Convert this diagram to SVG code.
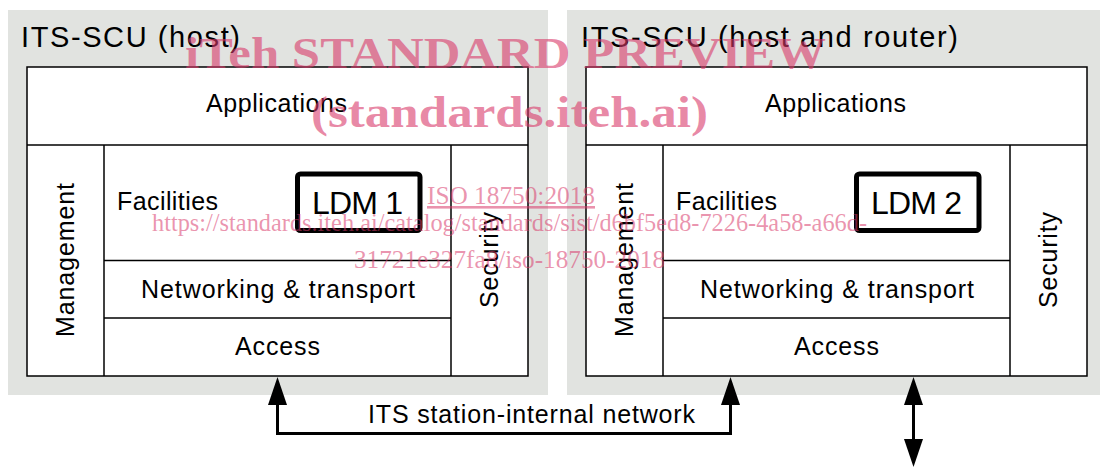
<svg xmlns="http://www.w3.org/2000/svg" width="1100" height="468" viewBox="0 0 1100 468">
  <defs>
    <style>
      .panel { fill: #e1e3e0; stroke: none; }
      .box { fill: #ffffff; stroke: #000000; stroke-width: 1.5; }
      .ln { fill: none; stroke: #000000; stroke-width: 1.5; }
      .ldm { fill: #ffffff; stroke: #000000; stroke-width: 5; }
      .t { font-family: "Liberation Sans", Arial, sans-serif; fill: #000000; }
      .title { font-size: 29px; }
      .lbl { font-size: 25px; }
      .big { font-size: 32px; }
      .conn { fill: none; stroke: #000000; stroke-width: 3; stroke-linejoin: miter; }
      .wm { font-family: "Liberation Serif", "Times New Roman", serif; fill: #d9396a; fill-opacity: 0.6; }
      .wmb { font-weight: bold; font-size: 45px; }
      .wms { font-size: 26px; fill-opacity: 0.55; }
    </style>
    <marker id="ah" markerUnits="userSpaceOnUse" markerWidth="28" markerHeight="20" viewBox="0 0 28 20" refX="0" refY="10" orient="auto-start-reverse">
      <path d="M0,0.5 L28,10 L0,19.5 Z" fill="#000000"/>
    </marker>
  </defs>

  <g id="panel-host">
    <rect class="panel" x="8" y="10" width="540" height="385"/>
    <text class="t title" x="21" y="47" textLength="219" lengthAdjust="spacing">ITS-SCU (host)</text>
    <rect class="box" x="27" y="67" width="501" height="309"/>
    <line class="ln" x1="27" y1="145" x2="528" y2="145"/>
    <line class="ln" x1="104" y1="145" x2="104" y2="376"/>
    <line class="ln" x1="451" y1="145" x2="451" y2="376"/>
    <line class="ln" x1="104" y1="260.5" x2="451" y2="260.5"/>
    <line class="ln" x1="104" y1="318" x2="451" y2="318"/>
  </g>
  <g id="host-applications">
    <text class="t lbl" x="206" y="112" textLength="141" lengthAdjust="spacing">Applications</text>
  </g>
  <g id="host-management">
    <text class="t lbl" x="74" y="260" text-anchor="middle" transform="rotate(-90 74 260)" textLength="154" lengthAdjust="spacing">Management</text>
  </g>
  <g id="host-facilities">
    <text class="t lbl" x="117" y="210" textLength="101" lengthAdjust="spacing">Facilities</text>
  </g>
  <g id="host-ldm">
    <rect class="ldm" x="297.5" y="174" width="122.5" height="56.5" rx="3"/>
    <text class="t big" x="312" y="213.5" textLength="91" lengthAdjust="spacing">LDM 1</text>
  </g>
  <g id="host-networking">
    <text class="t lbl" x="141" y="297.5" textLength="274" lengthAdjust="spacing">Networking &amp; transport</text>
  </g>
  <g id="host-access">
    <text class="t lbl" x="235" y="355" textLength="85" lengthAdjust="spacing">Access</text>
  </g>
  <g id="host-security">
    <text class="t lbl" x="498" y="260" text-anchor="middle" transform="rotate(-90 498 260)" textLength="96" lengthAdjust="spacing">Security</text>
  </g>

  <g id="panel-router">
    <rect class="panel" x="567" y="10" width="533" height="385"/>
    <text class="t title" x="581" y="47" textLength="377" lengthAdjust="spacing">ITS-SCU (host and router)</text>
    <rect class="box" x="586" y="67" width="501" height="309"/>
    <line class="ln" x1="586" y1="145" x2="1087" y2="145"/>
    <line class="ln" x1="663" y1="145" x2="663" y2="376"/>
    <line class="ln" x1="1010" y1="145" x2="1010" y2="376"/>
    <line class="ln" x1="663" y1="260.5" x2="1010" y2="260.5"/>
    <line class="ln" x1="663" y1="318" x2="1010" y2="318"/>
  </g>
  <g id="router-applications">
    <text class="t lbl" x="765" y="112" textLength="141" lengthAdjust="spacing">Applications</text>
  </g>
  <g id="router-management">
    <text class="t lbl" x="633" y="260" text-anchor="middle" transform="rotate(-90 633 260)" textLength="154" lengthAdjust="spacing">Management</text>
  </g>
  <g id="router-facilities">
    <text class="t lbl" x="676" y="210" textLength="101" lengthAdjust="spacing">Facilities</text>
  </g>
  <g id="router-ldm">
    <rect class="ldm" x="856.5" y="174" width="122.5" height="56.5" rx="3"/>
    <text class="t big" x="871" y="213.5" textLength="91" lengthAdjust="spacing">LDM 2</text>
  </g>
  <g id="router-networking">
    <text class="t lbl" x="700" y="297.5" textLength="274" lengthAdjust="spacing">Networking &amp; transport</text>
  </g>
  <g id="router-access">
    <text class="t lbl" x="794" y="355" textLength="85" lengthAdjust="spacing">Access</text>
  </g>
  <g id="router-security">
    <text class="t lbl" x="1057" y="260" text-anchor="middle" transform="rotate(-90 1057 260)" textLength="96" lengthAdjust="spacing">Security</text>
  </g>

  <g id="connectors">
    <path class="conn" d="M277.5,405 V433.5 H730.5 V405" marker-start="url(#ah)" marker-end="url(#ah)"/>
    <path class="conn" d="M913.5,405 V439" marker-start="url(#ah)" marker-end="url(#ah)"/>
    <text class="t lbl" x="368" y="422.5" textLength="327" lengthAdjust="spacing">ITS station-internal network</text>
  </g>

  <g id="watermark">
    <text class="wm wmb" x="185" y="68" textLength="641" lengthAdjust="spacingAndGlyphs">iTeh STANDARD PREVIEW</text>
    <text class="wm wmb" x="311" y="127" textLength="397" lengthAdjust="spacingAndGlyphs">(standards.iteh.ai)</text>
    <text class="wm wms" x="427" y="204" textLength="168" lengthAdjust="spacingAndGlyphs" text-decoration="underline">ISO 18750:2018</text>
    <text class="wm wms" x="152" y="231" textLength="715" lengthAdjust="spacingAndGlyphs">https://standards.iteh.ai/catalog/standards/sist/d6bf5ed8-7226-4a58-a66d-</text>
    <text class="wm wms" x="354" y="268" textLength="311" lengthAdjust="spacingAndGlyphs">31721e327fa8/iso-18750-2018</text>
  </g>
</svg>
